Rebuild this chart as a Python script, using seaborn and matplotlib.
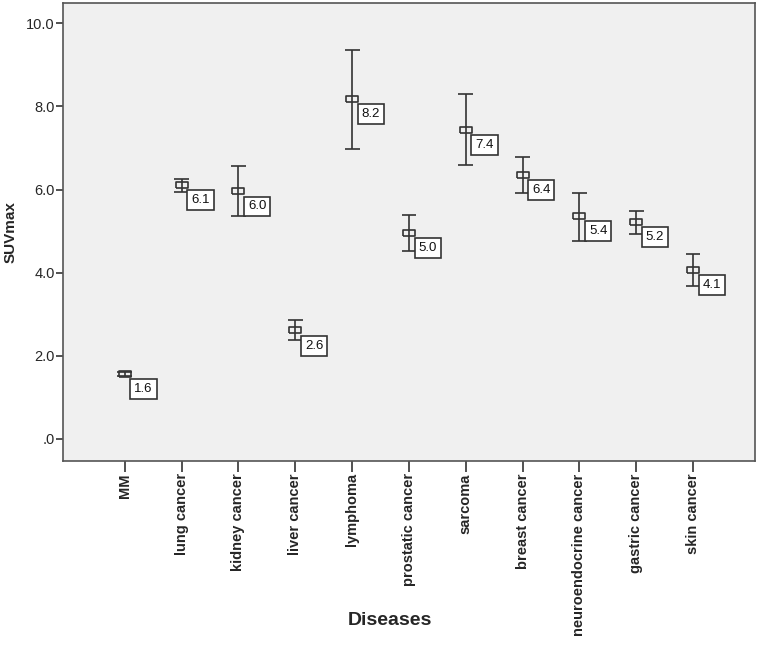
import numpy as np
import pandas as pd
import seaborn as sns
import matplotlib.pyplot as plt
from matplotlib.ticker import FuncFormatter

# ==============================
# Data
# ==============================
diseases = ["MM", "lung cancer", "kidney cancer", "liver cancer", "lymphoma",
            "prostatic cancer", "sarcoma", "breast cancer",
            "neuroendocrine cancer", "gastric cancer", "skin cancer"]
means = [1.57, 6.11, 5.96, 2.61, 8.19, 4.96, 7.44, 6.36, 5.36, 5.23, 4.07]
lower = [1.52, 5.94, 5.36, 2.39, 6.98, 4.52, 6.59, 5.92, 4.76, 4.93, 3.67]
upper = [1.62, 6.26, 6.57, 2.85, 9.35, 5.39, 8.31, 6.79, 5.92, 5.48, 4.44]

df = pd.DataFrame({"Diseases": diseases, "SUVmax": means,
                   "lo": lower, "hi": upper})

sns.set_style("white")
plt.rcParams["font.family"] = ["Liberation Sans", "DejaVu Sans"]

edge = "#333333"

fig = plt.figure(figsize=(7.58, 6.5), dpi=100)
ax = fig.add_axes([0.083, 0.291, 0.913, 0.705])
ax.set_facecolor("#f0f0f0")

# error bars
x = np.arange(len(df))
ax.vlines(x, df["lo"], df["hi"], color=edge, lw=1.2, zorder=2)
cap = 0.13
ax.hlines(df["lo"], x - cap, x + cap, color=edge, lw=1.2, zorder=2)
ax.hlines(df["hi"], x - cap, x + cap, color=edge, lw=1.2, zorder=2)

# mean markers (flat rectangle)
rect = [(-1, -0.5), (1, -0.5), (1, 0.5), (-1, 0.5), (-1, -0.5)]
sns.scatterplot(data=df, x="Diseases", y="SUVmax", marker=rect, s=75,
                facecolor="none", edgecolor=edge, linewidth=1.2,
                ax=ax, zorder=3)

# value labels in boxes
for i, m in enumerate(df["SUVmax"]):
    ax.annotate(f"{m:.1f}", (i, m), xytext=(13.5, -11),
                textcoords="offset points", ha="center", va="center",
                fontsize=9.5, color="#111111", zorder=4,
                bbox=dict(boxstyle="square,pad=0.3", fc="white",
                          ec=edge, lw=1.2))

ax.set_xlim(-1.09, len(df) - 1 + 1.09)
ax.set_ylim(-0.53, 10.5)
ax.set_yticks([0, 2, 4, 6, 8, 10])
ax.yaxis.set_major_formatter(FuncFormatter(
    lambda v, p: f"{v:.1f}".lstrip("0") if v < 1 else f"{v:.1f}"))
ax.set_xticks(x)
ax.set_xticklabels(diseases, rotation=90, fontweight="bold", fontsize=10.5)

ax.tick_params(axis="y", direction="out", length=5, width=1.2,
               color=edge, labelsize=10.5, pad=1, left=True)
ax.tick_params(axis="x", direction="out", length=8, width=1.2,
               color=edge, pad=1, bottom=True)

for s in ax.spines.values():
    s.set_color("#555555")
    s.set_linewidth(1.2)

ax.set_xlabel("Diseases", fontsize=14, fontweight="bold")
ax.xaxis.set_label_coords(0.472, -0.33)
ax.set_ylabel("SUVmax", fontsize=11, fontweight="bold", labelpad=6)

fig.savefig("out.png", dpi=100, facecolor="white")
